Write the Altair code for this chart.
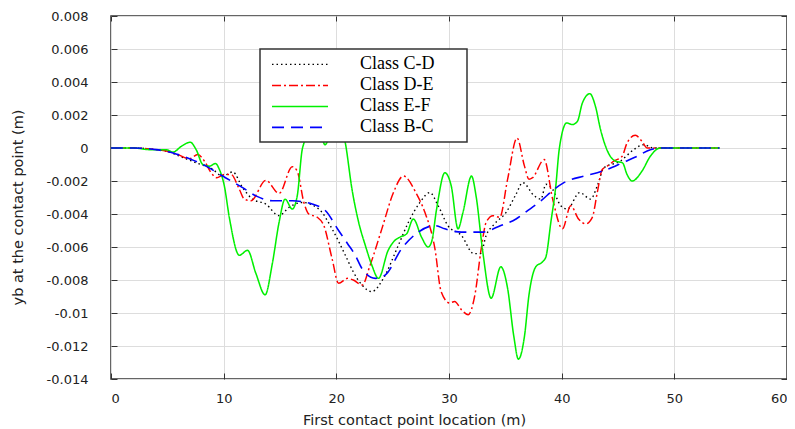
import altair as alt
import pandas as pd

series_names = ["Class C-D", "Class D-E", "Class E-F", "Class B-C"]
series_colors = ["#000000", "#ff0000", "#00f000", "#0000ff"]
series_dashes = [[1.5, 3], [9, 3, 2, 3], [1, 0], [12, 7]]
series_widths = [1.4, 1.6, 1.6, 1.8]

x_ticks = [0, 10, 20, 30, 40, 50, 60]
y_ticks = [-0.014, -0.012, -0.010, -0.008, -0.006, -0.004, -0.002,
           0.0, 0.002, 0.004, 0.006, 0.008]

cd_x = [0, 2, 4, 5, 6.1, 7.56, 9.03, 9.9, 10.8, 11.68, 12.56, 13.74, 14.92,
        15.8, 16.97, 18.45, 19.62, 20.8, 21.5, 22.27, 23.15, 24.18, 25.5,
        26.4, 27.42, 28.3, 29.04, 29.9, 31.1, 32.2, 32.8, 33.3, 34.04, 35.07,
        35.95, 36.54, 37.57, 38.16, 38.6, 39.19, 39.92, 40.5, 41.6, 42.57,
        43.16, 43.75, 45.2, 46.4, 47.28, 48.16, 50, 54]
cd_y = [0, 0, -0.0001, -0.0002, -0.0005, -0.0009, -0.0013, -0.0017, -0.00145,
        -0.0024, -0.0031, -0.0034, -0.0041, -0.0036, -0.0033, -0.0037, -0.0049,
        -0.0065, -0.0075, -0.0083, -0.0087, -0.0079, -0.0059, -0.0045, -0.0033,
        -0.0027, -0.0035, -0.0047, -0.0053, -0.0064, -0.0064, -0.0053, -0.0046,
        -0.0039, -0.0028, -0.0021, -0.0029, -0.0031, -0.0022, -0.0025, -0.0035,
        -0.0037, -0.0027, -0.0031, -0.0023, -0.0012, -0.0008, -0.0001, 0.0002,
        0.0, 0.0, 0.0]

de_x = [0, 2, 4, 5, 5.94, 6.97, 7.7, 8.3, 8.89, 9.38, 10.06, 10.65, 11.39,
        11.83, 12.42, 13.74, 14.92, 16.09, 16.53, 17.12, 17.56, 18.3, 18.89,
        19.62, 20.2, 21.0, 21.5, 22.3, 23.0, 24.04, 25.07, 25.95, 27.13, 27.86,
        28.75, 29.3, 30.07, 30.5, 31.1, 31.7, 32.3, 32.86, 33.3, 33.9, 34.5,
        35.2, 36.04, 36.7, 37.1, 37.42, 38.45, 39.2, 40.07, 40.8, 41.5, 42.13,
        42.72, 43.16, 43.6, 44.04, 44.63, 45.37, 45.8, 46.54, 47.13, 47.6,
        48.16, 50, 54]
de_y = [0, 0, -0.0001, -0.0002, -0.0004, -0.00065, -0.0004, -0.0008, -0.0015,
        -0.0018, -0.0016, -0.0016, -0.0025, -0.0031, -0.0032, -0.00196,
        -0.00275, -0.00113, -0.0014, -0.0033, -0.004, -0.0042, -0.0047,
        -0.0067, -0.0082, -0.0079, -0.0080, -0.0083, -0.0071, -0.0049,
        -0.0027, -0.0017, -0.0028, -0.0039, -0.0061, -0.0087, -0.0094,
        -0.0093, -0.0098, -0.0101, -0.0089, -0.0061, -0.0045, -0.0041,
        -0.0042, -0.0019, 0.0006, -0.0011, -0.0019, -0.0018, -0.0007,
        -0.0031, -0.0049, -0.0035, -0.0043, -0.0046, -0.0042, -0.0027,
        -0.0013, -0.0011, -0.0008, -0.0005, 0.0003, 0.00077, 0.0004, 0.0,
        0.0, 0.0, 0.0]

ef_x = [0, 2, 3.44, 4.9, 5.5, 6.24, 7.03, 7.56, 8.15, 8.74, 9.27, 9.62, 10.06,
        10.5, 11.39, 12.12, 12.86, 13.68, 14.32, 14.92, 15.45, 16.09, 16.53,
        16.97, 17.15, 18.1, 19.0, 20.0, 20.8, 21.39, 21.98, 22.57, 23.15,
        23.74, 24.6, 25.2, 25.65, 26.24, 26.83, 27.56, 28.15, 28.45, 28.9,
        29.63, 30.2, 30.8, 31.24, 32.0, 32.4, 33.0, 33.74, 34.6, 35.2, 35.75,
        36.16, 36.7, 37.1, 37.7, 38.3, 38.6, 39.04, 39.48, 39.78, 40.45,
        40.95, 41.4, 41.84, 42.5, 43.0, 43.45, 43.9, 44.34, 44.8, 45.4, 45.8,
        46.25, 47.13, 47.87, 48.75, 54]
ef_y = [0, 0, -0.0001, -0.0001, -0.00025, 0.0001, 0.00035, -0.0001, -0.001,
        -0.0011, -0.00094, -0.0013, -0.0023, -0.0042, -0.0065, -0.0062,
        -0.0076, -0.0089, -0.0070, -0.0045, -0.0031, -0.0037, -0.0029,
        -0.0001, 0.00035, 0.0025, 0.0002, 0.0020, 0.0003, -0.0025, -0.0045,
        -0.0059, -0.0071, -0.0079, -0.0062, -0.0056, -0.0054, -0.0052,
        -0.0043, -0.0054, -0.0060, -0.0057, -0.0037, -0.0015, -0.0023,
        -0.0049, -0.0039, -0.0017, -0.0029, -0.0063, -0.0091, -0.0072,
        -0.0085, -0.0114, -0.0128, -0.0114, -0.0089, -0.0072, -0.0069,
        -0.0066, -0.0045, -0.0023, -0.0001, 0.00152, 0.00142, 0.00162,
        0.00273, 0.00329, 0.00252, 0.00112, 0.0001, -0.00053, -0.0008,
        -0.0009, -0.0016, -0.0020, -0.0014, -0.0005, 0.0, 0.0]

bc_x = [0, 2, 4, 5.5, 6.97, 8.45, 9.91, 11.68, 12.86, 14.32, 16.09, 17.85,
        19.04, 20.2, 21.0, 21.68, 22.27, 23.45, 24.33, 25.8, 27.27, 28.75,
        29.63, 31.1, 32.86, 34.6, 35.95, 36.98, 38.16, 39.34, 40.2, 42.0,
        43.16, 44.04, 45.5, 46.7, 47.87, 48.75, 54]
bc_y = [0, 0, -0.0001, -0.0003, -0.00065, -0.0011, -0.0017, -0.0024, -0.0029,
        -0.0032, -0.0032, -0.0034, -0.0038, -0.0050, -0.0058, -0.0065,
        -0.0073, -0.0079, -0.0077, -0.0061, -0.0051, -0.0047, -0.0049,
        -0.0051, -0.0051, -0.0047, -0.0043, -0.0038, -0.0032, -0.0025,
        -0.0021, -0.0017, -0.0015, -0.0013, -0.00086, -0.0005, -0.0001,
        0.0, 0.0]

xs = [cd_x, de_x, ef_x, bc_x]
ys = [cd_y, de_y, ef_y, bc_y]
rows = []
for name, sx, sy in zip(series_names, xs, ys):
    for a, b in zip(sx, sy):
        rows.append({"series": name, "x": a, "y": b})
df = pd.DataFrame(rows)

x_dom = [x_ticks[0], x_ticks[-1]]
y_dom = [y_ticks[0], y_ticks[-1]]
xscale = alt.Scale(domain=x_dom, nice=False, zero=False)
yscale = alt.Scale(domain=y_dom, nice=False, zero=False)

# main axes: ticks pulled inside the frame via a negative offset
xaxis = alt.Axis(values=x_ticks, title="First contact point location  (m)",
                 offset=-6, ticks=True, tickSize=6, tickColor="#333333",
                 tickWidth=1,
                 titleX=303, titleY=47, titleBaseline="middle",
                 labelPadding=13)
yaxis = alt.Axis(values=y_ticks, title="yb at the contact point (m)",
                 labelExpr="replace(format(datum.value, '~g'), '\u2212', '-')",
                 offset=-6, ticks=True, tickSize=6, tickColor="#333333",
                 tickWidth=1,
                 titleX=-99, titleY=191, titleAngle=270,
                 titleBaseline="middle", labelPadding=23)

# opposite-side axes carrying only inward ticks
xaxis_top = alt.Axis(values=x_ticks, orient="top", labels=False, grid=False,
                     title=None, offset=-5, ticks=True, tickSize=5,
                     tickColor="#333333", tickWidth=1)
yaxis_right = alt.Axis(values=y_ticks, orient="right", labels=False, grid=False,
                       title=None, offset=-6, ticks=True, tickSize=6,
                       tickColor="#333333", tickWidth=1)

# a 1px white spacer title only widens the legend box to its original width
spacer = "M" * 210
legend = alt.Legend(title=spacer, titleOrient="top", titlePadding=0,
                    titleColor="#ffffff", titleFont="Liberation Serif",
                    titleFontSize=1, titleLimit=1000, titleAnchor="start",
                    orient="none", legendX=149, legendY=33,
                    symbolType="stroke", symbolSize=3136,
                    clipHeight=20.8, rowPadding=0,
                    symbolOffset=7, labelOffset=31, padding=4,
                    symbolStrokeWidth=1.6,
                    labelFont="Liberation Serif", labelFontSize=18,
                    labelColor="#000000", fillColor="#ffffff",
                    strokeColor="#333333")

lines = alt.Chart(df).mark_line(interpolate="monotone").encode(
    x=alt.X("x:Q", scale=xscale, axis=xaxis),
    y=alt.Y("y:Q", scale=yscale, axis=yaxis),
    color=alt.Color("series:N", scale=alt.Scale(domain=series_names, range=series_colors),
                    legend=legend),
    strokeDash=alt.StrokeDash("series:N", scale=alt.Scale(domain=series_names, range=series_dashes),
                              legend=legend),
    strokeWidth=alt.StrokeWidth("series:N", scale=alt.Scale(domain=series_names, range=series_widths),
                                legend=None),
    order=alt.Order("x:Q"),
)

frame_pts = pd.DataFrame({"x": x_dom, "y": y_dom})
frame_ticks = alt.Chart(frame_pts).mark_point(opacity=0).encode(
    x=alt.X("x:Q", scale=xscale, axis=xaxis_top),
    y=alt.Y("y:Q", scale=yscale, axis=yaxis_right),
)

chart = alt.layer(lines, frame_ticks).resolve_scale(
    x="independent", y="independent"
).resolve_axis(
    x="independent", y="independent"
).properties(
    width=676, height=363,
    autosize=alt.AutoSizeParams(type="none"),
    padding={"left": 103, "top": 8, "right": 0, "bottom": 50},
).configure_view(
    stroke="#333333", strokeWidth=1.5
).configure_axis(
    grid=True, gridColor="#dddddd", gridWidth=1,
    domain=False,
    labelFont="DejaVu Sans", labelFontSize=13, labelColor="#222222",
    titleFont="DejaVu Sans", titleFontSize=14.5, titleFontWeight="normal",
    titleColor="#222222",
).configure_legend(
    strokeWidth=1.5
)

chart.save("out.html", embed_options={"renderer": "svg", "actions": False})
